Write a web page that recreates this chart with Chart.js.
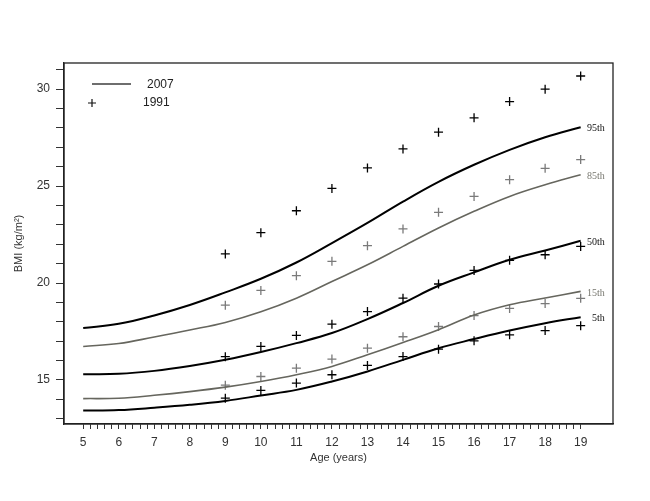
<!DOCTYPE html>
<html>
<head>
<meta charset="utf-8">
<script src="https://cdn.jsdelivr.net/npm/chart.js@4.4.1/dist/chart.umd.min.js"></script>
<style>
  html, body { margin: 0; padding: 0; background: #fff; }
  #wrap { width: 650px; height: 501px; }
</style>
</head>
<body>
<div id="wrap"><canvas id="bmi" width="650" height="501"></canvas></div>
<script>
// ages
const ages2007 = [5, 6, 7, 8, 9, 10, 11, 12, 13, 14, 15, 16, 17, 18, 19];
const ages1991 = [9, 10, 11, 12, 13, 14, 15, 16, 17, 18, 19];

// 2007 percentile curves (BMI)
const p95_2007 = [17.68, 17.9, 18.33, 18.87, 19.52, 20.22, 21.06, 22.06, 23.1, 24.2, 25.22, 26.1, 26.87, 27.52, 28.04];
const p85_2007 = [16.73, 16.88, 17.22, 17.58, 17.97, 18.52, 19.22, 20.08, 20.94, 21.89, 22.84, 23.7, 24.47, 25.07, 25.59];
const p50_2007 = [15.3, 15.32, 15.47, 15.72, 16.04, 16.44, 16.9, 17.42, 18.14, 18.97, 19.86, 20.55, 21.2, 21.68, 22.18];
const p15_2007 = [14.04, 14.06, 14.21, 14.4, 14.63, 14.92, 15.27, 15.7, 16.3, 16.93, 17.59, 18.35, 18.88, 19.23, 19.57];
const p5_2007 = [13.42, 13.45, 13.57, 13.72, 13.92, 14.2, 14.49, 14.92, 15.44, 16.04, 16.64, 17.11, 17.55, 17.93, 18.24];

// 1991 percentiles (crosses)
const p95_1991 = [21.5, 22.6, 23.73, 24.88, 25.94, 26.92, 27.78, 28.52, 29.36, 30.0, 30.68];
const p85_1991 = [18.86, 19.62, 20.38, 21.12, 21.93, 22.79, 23.65, 24.47, 25.33, 25.92, 26.37];
const p50_1991 = [16.2, 16.73, 17.3, 17.88, 18.53, 19.22, 19.95, 20.65, 21.17, 21.46, 21.89];
const p15_1991 = [14.73, 15.18, 15.61, 16.08, 16.64, 17.23, 17.76, 18.32, 18.69, 18.94, 19.21];
const p5_1991 = [14.06, 14.46, 14.84, 15.27, 15.75, 16.21, 16.59, 17.02, 17.33, 17.55, 17.8];

const percentileNames = ['95th', '85th', '50th', '15th', '5th'];

// axis ticks
const xTickLabels = [5, 6, 7, 8, 9, 10, 11, 12, 13, 14, 15, 16, 17, 18, 19];
const xMinorStep = 0.2;
const yTickLabels = [15, 20, 25, 30];
const yMinorStep = 1;
const yTickRange = [13, 31];

const BLACK = '#000000';
const GREY = '#66665e';
const GREY_CROSS = '#7a7a7a';
const TEXT = '#333333';
const SANS = '"Liberation Sans", Arial, sans-serif';

const curves = [p95_2007, p85_2007, p50_2007, p15_2007, p5_2007];
const crosses = [p95_1991, p85_1991, p50_1991, p15_1991, p5_1991];

function toPoints(xs, ys) {
  return xs.map((x, i) => ({ x: x, y: ys[i] }));
}

const datasets = [];
curves.forEach((c, i) => {
  const grey = i === 1 || i === 3;
  datasets.push({
    label: percentileNames[i] + ' 2007',
    data: toPoints(ages2007, c),
    borderColor: grey ? GREY : BLACK,
    borderWidth: grey ? 1.6 : 2,
    pointRadius: 0,
    tension: 0.4,
    fill: false
  });
});
crosses.forEach((c, i) => {
  const grey = i === 1 || i === 3;
  datasets.push({
    label: percentileNames[i] + ' 1991',
    data: toPoints(ages1991, c),
    showLine: false,
    pointStyle: 'cross',
    pointRadius: 4.5,
    pointBorderWidth: 1.3,
    pointBorderColor: grey ? GREY_CROSS : BLACK,
    borderColor: grey ? GREY_CROSS : BLACK
  });
});

// frame, percentile labels and the little legend
const extras = {
  id: 'extras',
  afterDraw(chart) {
    const ctx = chart.ctx;
    const a = chart.chartArea;
    const xs = chart.scales.x, ys = chart.scales.y;
    ctx.save();
    ctx.strokeStyle = '#222';
    ctx.lineWidth = 1.3;
    ctx.strokeRect(a.left, a.top, a.right - a.left, a.bottom - a.top);

    // percentile labels at the curve ends
    ctx.font = '10px "Liberation Serif", "DejaVu Serif", serif';
    ctx.textAlign = 'right';
    ctx.textBaseline = 'middle';
    const lastAge = ages2007[ages2007.length - 1];
    curves.forEach((c, i) => {
      const grey = i === 1 || i === 3;
      ctx.fillStyle = grey ? '#77776f' : '#111';
      ctx.fillText(percentileNames[i], xs.getPixelForValue(lastAge) + 24, ys.getPixelForValue(c[c.length - 1]) + 1.5);
    });

    // legend
    const lx = a.left + 28, ly = a.top + 21;
    ctx.strokeStyle = '#6e6e6e';
    ctx.lineWidth = 2;
    ctx.beginPath();
    ctx.moveTo(lx, ly);
    ctx.lineTo(lx + 39, ly);
    ctx.stroke();
    ctx.strokeStyle = '#111';
    ctx.lineWidth = 1.2;
    ctx.beginPath();
    ctx.moveTo(lx - 4, ly + 19); ctx.lineTo(lx + 4, ly + 19);
    ctx.moveTo(lx, ly + 15); ctx.lineTo(lx, ly + 23);
    ctx.stroke();
    ctx.fillStyle = '#222';
    ctx.font = '12px ' + SANS;
    ctx.textAlign = 'left';
    ctx.fillText('2007', lx + 55, ly + 1);
    ctx.fillText('1991', lx + 51, ly + 19);
    ctx.restore();
  }
};

new Chart(document.getElementById('bmi').getContext('2d'), {
  type: 'line',
  data: { datasets: datasets },
  options: {
    responsive: false,
    animation: false,
    layout: { padding: { top: 63, right: 37, left: 0, bottom: 0 } },
    plugins: { legend: { display: false }, tooltip: { enabled: false } },
    scales: {
      x: {
        type: 'linear',
        min: 4.46,
        max: 19.91,
        afterBuildTicks(axis) {
          const first = xTickLabels[0], last = xTickLabels[xTickLabels.length - 1];
          const n = Math.round((last - first) / xMinorStep);
          const t = [];
          for (let i = 0; i <= n; i++) t.push({ value: Math.round((first + i * xMinorStep) * 10) / 10 });
          axis.ticks = t;
        },
        afterFit(axis) { axis.height = 77; },
        grid: { drawOnChartArea: false, drawTicks: true, tickLength: 5, color: '#333', lineWidth: 1 },
        border: { display: true, color: '#222', width: 1.3 },
        ticks: {
          autoSkip: false,
          maxRotation: 0,
          padding: 6,
          color: TEXT,
          font: { family: SANS, size: 12 },
          callback: (v) => xTickLabels.includes(v) ? String(v) : ''
        },
        title: {
          display: true,
          text: 'Age (years)',
          color: TEXT,
          font: { family: SANS, size: 11 },
          padding: { top: 0, bottom: 36 }
        }
      },
      y: {
        type: 'linear',
        min: 12.73,
        max: 31.35,
        afterBuildTicks(axis) {
          const t = [];
          for (let v = yTickRange[0]; v <= yTickRange[1]; v += yMinorStep) t.push({ value: v });
          axis.ticks = t;
        },
        afterFit(axis) { axis.width = 64; },
        grid: { drawOnChartArea: false, drawTicks: true, tickLength: 8, color: '#333', lineWidth: 1 },
        border: { display: true, color: '#222', width: 1.3 },
        ticks: {
          autoSkip: false,
          padding: 6,
          color: TEXT,
          font: { family: SANS, size: 12 },
          callback: (v) => yTickLabels.includes(v) ? String(v) : ''
        },
        title: {
          display: true,
          text: 'BMI (kg/m²)',
          color: TEXT,
          font: { family: SANS, size: 11 },
          padding: { top: 12, bottom: 0 }
        }
      }
    }
  },
  plugins: [extras]
});
</script>
</body>
</html>
